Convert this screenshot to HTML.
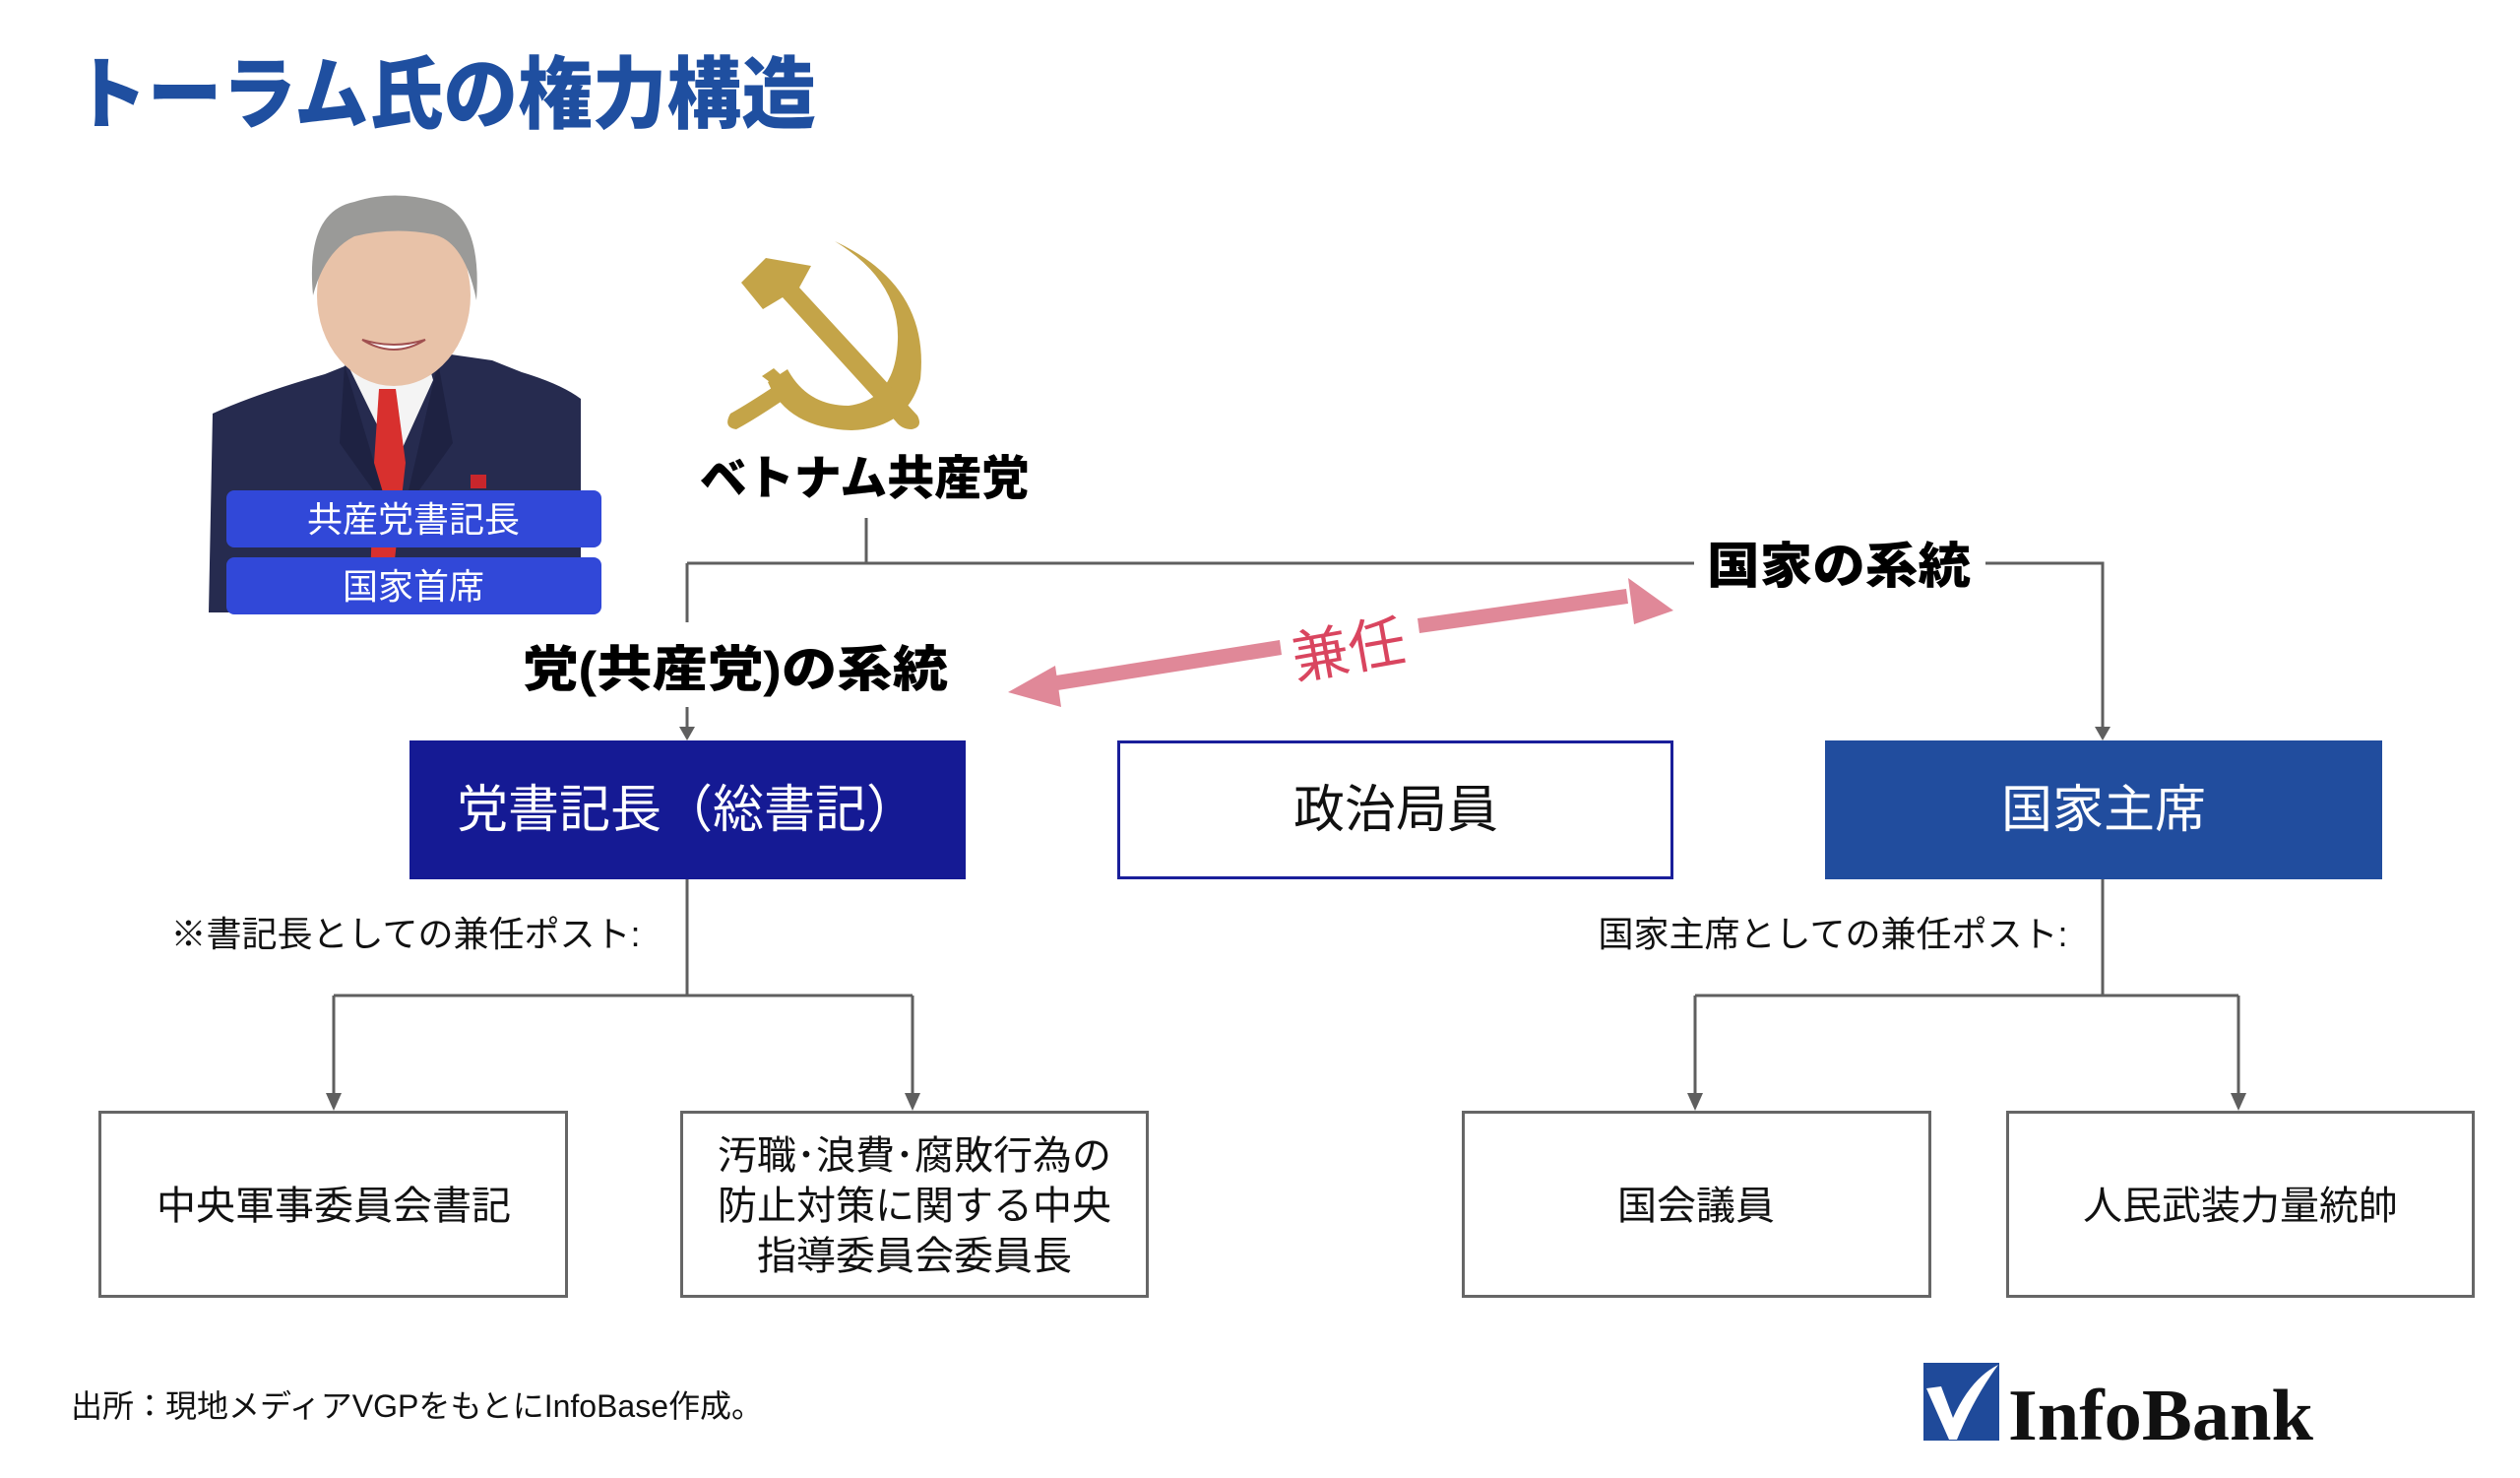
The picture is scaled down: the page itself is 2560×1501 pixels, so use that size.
<!DOCTYPE html>
<html><head><meta charset="utf-8"><style>
html,body{margin:0;padding:0;background:#fff}
svg{display:block}
text{font-family:"Liberation Sans","Noto Sans CJK JP",sans-serif}
</style></head><body>
<svg width="2560" height="1501" viewBox="0 0 2560 1501" xmlns="http://www.w3.org/2000/svg">
<!-- Title -->
<text x="74" y="124" font-size="80" font-weight="900" fill="#1f4fa0" textLength="755" lengthAdjust="spacingAndGlyphs">トーラム氏の権力構造</text>

<!-- Portrait -->
<g>
<path d="M212 622 L216 420 Q260 400 330 380 L360 368 L430 356 L500 366 L530 378 Q570 390 590 405 L590 622 Z" fill="#262b4f"/>
<path d="M352 368 L402 470 L440 386 L430 350 L360 350 Z" fill="#f4f4f4"/>
<path d="M385 395 L402 395 L412 470 L395 622 L375 622 L380 470 Z" fill="#d8302e"/>
<path d="M350 370 L395 520 L345 450 Z" fill="#1e2242"/>
<path d="M445 368 L410 520 L460 450 Z" fill="#1e2242"/>
<rect x="362" y="320" width="76" height="50" fill="#e0b9a0"/>
<ellipse cx="400" cy="300" rx="78" ry="92" fill="#e8c2a8"/>
<path d="M318 300 Q310 215 360 205 Q400 192 445 205 Q490 220 484 305 Q472 245 440 238 Q400 230 360 240 Q330 255 318 300 Z" fill="#9a9a98"/>
<path d="M368 345 Q400 365 432 345 Q400 355 368 345 Z" fill="#ffffff" stroke="#a05050" stroke-width="2"/>
<rect x="478" y="482" width="16" height="14" fill="#c8262c"/>
</g>
<rect x="230" y="498" width="381" height="58" rx="8" fill="#3148d8"/>
<text x="420" y="540" font-size="36" fill="#fff" text-anchor="middle">共産党書記長</text>
<rect x="230" y="566" width="381" height="58" rx="8" fill="#3148d8"/>
<text x="420" y="608" font-size="36" fill="#fff" text-anchor="middle">国家首席</text>

<!-- Hammer and sickle -->
<g fill="#c4a448">
<path d="M848 245 Q945 290 935 385 Q922 435 865 437 Q800 435 780 388 L800 375 Q820 412 862 412 Q910 406 912 345 Q914 285 848 245 Z"/>
<path d="M774 382 L786 374 L800 387 L790 394 Z"/>
<path d="M790 390 Q760 410 742 420 Q734 434 748 436 Q770 424 802 402 Z"/>
<path d="M778 262 L824 270 L812 292 L932 422 Q938 434 926 436 Q916 436 910 428 L795 302 L775 314 L753 287 Z"/>
</g>
<text x="878" y="502" font-size="48" font-weight="900" fill="#000" text-anchor="middle">ベトナム共産党</text>

<!-- Connectors -->
<g stroke="#5f5f5f" stroke-width="3" fill="none">
<path d="M880 526 V572"/>
<path d="M698 572 H1721"/>
<path d="M2017 572 H2136 V742"/>
<path d="M698 572 V632"/>
<path d="M698 718 V742"/>
<path d="M698 893 V1011 M339 1011 H927 M339 1011 V1116 M927 1011 V1116"/>
<path d="M2136 893 V1011 M1722 1011 H2274 M1722 1011 V1116 M2274 1011 V1116"/>
</g>
<g fill="#5f5f5f">
<path d="M690 738 L706 738 L698 752 Z"/>
<path d="M2128 738 L2144 738 L2136 752 Z"/>
<path d="M331 1110 L347 1110 L339 1128 Z"/>
<path d="M919 1110 L935 1110 L927 1128 Z"/>
<path d="M1714 1110 L1730 1110 L1722 1128 Z"/>
<path d="M2266 1110 L2282 1110 L2274 1128 Z"/>
</g>
<text x="1734" y="592" font-size="50" font-weight="900" fill="#000" textLength="268" lengthAdjust="spacingAndGlyphs">国家の系統</text>
<text x="531" y="697" font-size="50" font-weight="900" fill="#000" textLength="432" lengthAdjust="spacingAndGlyphs">党(共産党)の系統</text>

<!-- Pink double arrow -->
<g fill="#e08898">
<path d="M1060 688 L1300 650 L1302 665 L1062 703 Z"/>
<path d="M1440 628 L1652 598 L1654 613 L1442 643 Z"/>
<path d="M1024 703 L1072 676 L1078 718 Z"/>
<path d="M1700 620 L1654 587 L1660 634 Z"/>
</g>
<text x="1370" y="680" font-size="58" fill="#d9455f" text-anchor="middle" transform="rotate(-10 1370 660)">兼任</text>

<!-- Main boxes -->
<rect x="416" y="752" width="565" height="141" fill="#151a94"/>
<text x="698" y="840" font-size="52" fill="#fff" text-anchor="middle">党書記長（総書記）</text>
<rect x="1136.5" y="753.5" width="562" height="138" fill="#fff" stroke="#1a1f9a" stroke-width="3"/>
<text x="1418" y="840" font-size="52" fill="#111" text-anchor="middle">政治局員</text>
<rect x="1854" y="752" width="566" height="141" fill="#214d9e"/>
<text x="2137" y="840" font-size="52" fill="#fff" text-anchor="middle">国家主席</text>

<text x="412" y="961" font-size="36" fill="#111" text-anchor="middle">※書記長としての兼任ポスト:</text>
<text x="1862" y="961" font-size="36" fill="#111" text-anchor="middle">国家主席としての兼任ポスト:</text>

<!-- Sub boxes -->
<g fill="#fff" stroke="#666" stroke-width="3">
<rect x="101.5" y="1129.5" width="474" height="187"/>
<rect x="692.5" y="1129.5" width="473" height="187"/>
<rect x="1486.5" y="1129.5" width="474" height="187"/>
<rect x="2039.5" y="1129.5" width="473" height="187"/>
</g>
<g font-size="40" fill="#111" text-anchor="middle">
<text x="339" y="1238">中央軍事委員会書記</text>
<text x="929" y="1187">汚職･浪費･腐敗行為の</text>
<text x="929" y="1238">防止対策に関する中央</text>
<text x="929" y="1289">指導委員会委員長</text>
<text x="1723" y="1238">国会議員</text>
<text x="2276" y="1238">人民武装力量統帥</text>
</g>

<text x="72" y="1439" font-size="32" fill="#111">出所：現地メディアVGPをもとにInfoBase作成。</text>

<!-- Logo -->
<rect x="1954" y="1384" width="77" height="79" fill="#1f4a9a"/>
<path d="M1957 1410 L1972 1408 L1984 1440 Q2002 1400 2030 1386 Q2005 1420 1988 1462 L1980 1462 Z" fill="#fff"/>
<text x="2040" y="1462" style="font-family:'Liberation Serif',serif;font-weight:bold" font-size="74" fill="#111" textLength="310" lengthAdjust="spacingAndGlyphs">InfoBank</text>
</svg>
</body></html>
